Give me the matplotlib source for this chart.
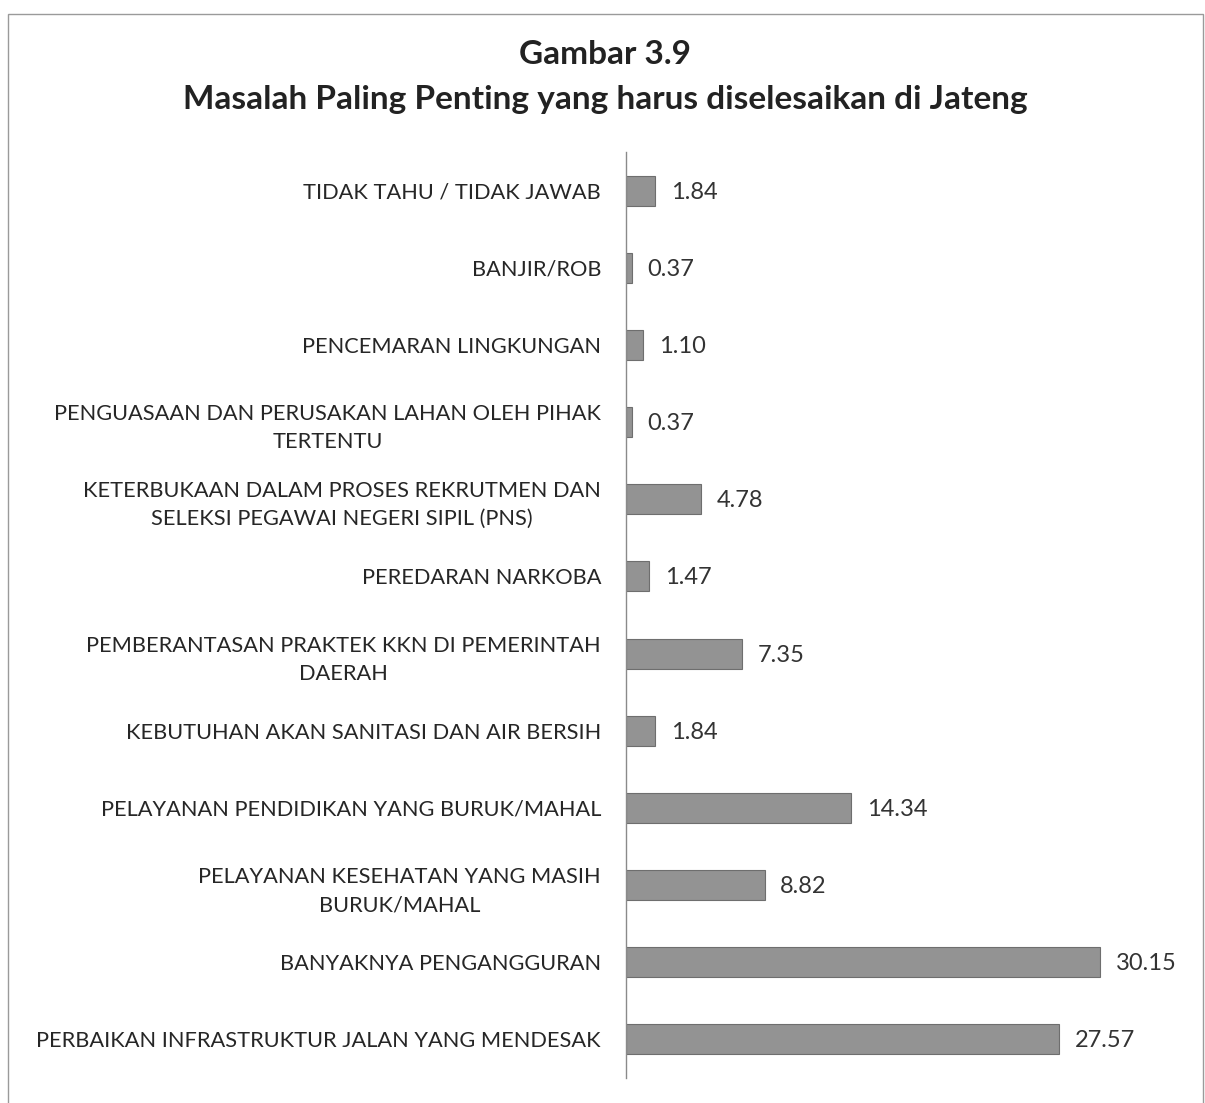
import matplotlib.pyplot as plt
from matplotlib.patches import Rectangle

plt.rcParams['font.family'] = ['Lato', 'DejaVu Sans']

categories = [
    "PERBAIKAN INFRASTRUKTUR JALAN YANG MENDESAK",
    "BANYAKNYA PENGANGGURAN",
    "PELAYANAN KESEHATAN YANG MASIH\nBURUK/MAHAL",
    "PELAYANAN PENDIDIKAN YANG BURUK/MAHAL",
    "KEBUTUHAN AKAN SANITASI DAN AIR BERSIH",
    "PEMBERANTASAN PRAKTEK KKN DI PEMERINTAH\nDAERAH",
    "PEREDARAN NARKOBA",
    "KETERBUKAAN DALAM PROSES REKRUTMEN DAN\nSELEKSI PEGAWAI NEGERI SIPIL (PNS)",
    "PENGUASAAN DAN PERUSAKAN LAHAN OLEH PIHAK\nTERTENTU",
    "PENCEMARAN LINGKUNGAN",
    "BANJIR/ROB",
    "TIDAK TAHU / TIDAK JAWAB",
]
values = [27.57, 30.15, 8.82, 14.34, 1.84, 7.35, 1.47, 4.78, 0.37, 1.10, 0.37, 1.84]
value_labels = ["27.57", "30.15", "8.82", "14.34", "1.84", "7.35", "1.47", "4.78",
                "0.37", "1.10", "0.37", "1.84"]

fig = plt.figure(figsize=(12.05, 11.03), dpi=100)
ax = fig.add_axes([626 / 1205, 1 - 1078 / 1103, 0.98 - 626 / 1205, (1078 - 152) / 1103])

y = range(len(categories))
ax.barh(y, values, height=0.39, color="#939393", edgecolor="#6e6e6e", linewidth=0.8)

for yi, v, lab in zip(y, values, value_labels):
    ax.text(v + 1.0, yi - 0.02, lab, va="center", ha="left", fontsize=17,
            color="#333333")

ax.set_xlim(0, 35.3)
ax.set_ylim(-0.5, 11.5)
ax.set_yticks(list(y))
ax.set_yticklabels(categories, fontsize=15.7, color="#262626")
for t in ax.get_yticklabels():
    t.set_multialignment("center")
    t.set_linespacing(1.5)
ax.tick_params(axis="y", length=0, pad=18)
ax.set_xticks([])
for s in ["top", "right", "bottom"]:
    ax.spines[s].set_visible(False)
ax.spines["left"].set_color("#8a8a8a")
ax.spines["left"].set_linewidth(1.0)

fig.text(605 / 1205, 1 - 55 / 1103, "Gambar 3.9", ha="center", va="center",
         fontsize=24, fontweight="bold", color="#222222")
fig.text(605 / 1205, 1 - 100 / 1103, "Masalah Paling Penting yang harus diselesaikan di Jateng",
         ha="center", va="center", fontsize=24, fontweight="bold", color="#222222")

# frame around the picture
fig.add_artist(Rectangle((8 / 1205, -0.05), (1203 - 8) / 1205, 1.05 - 14 / 1103,
                         transform=fig.transFigure, fill=False, edgecolor="#9a9a9a",
                         linewidth=1.0))

fig.savefig("out.png", dpi=100)
